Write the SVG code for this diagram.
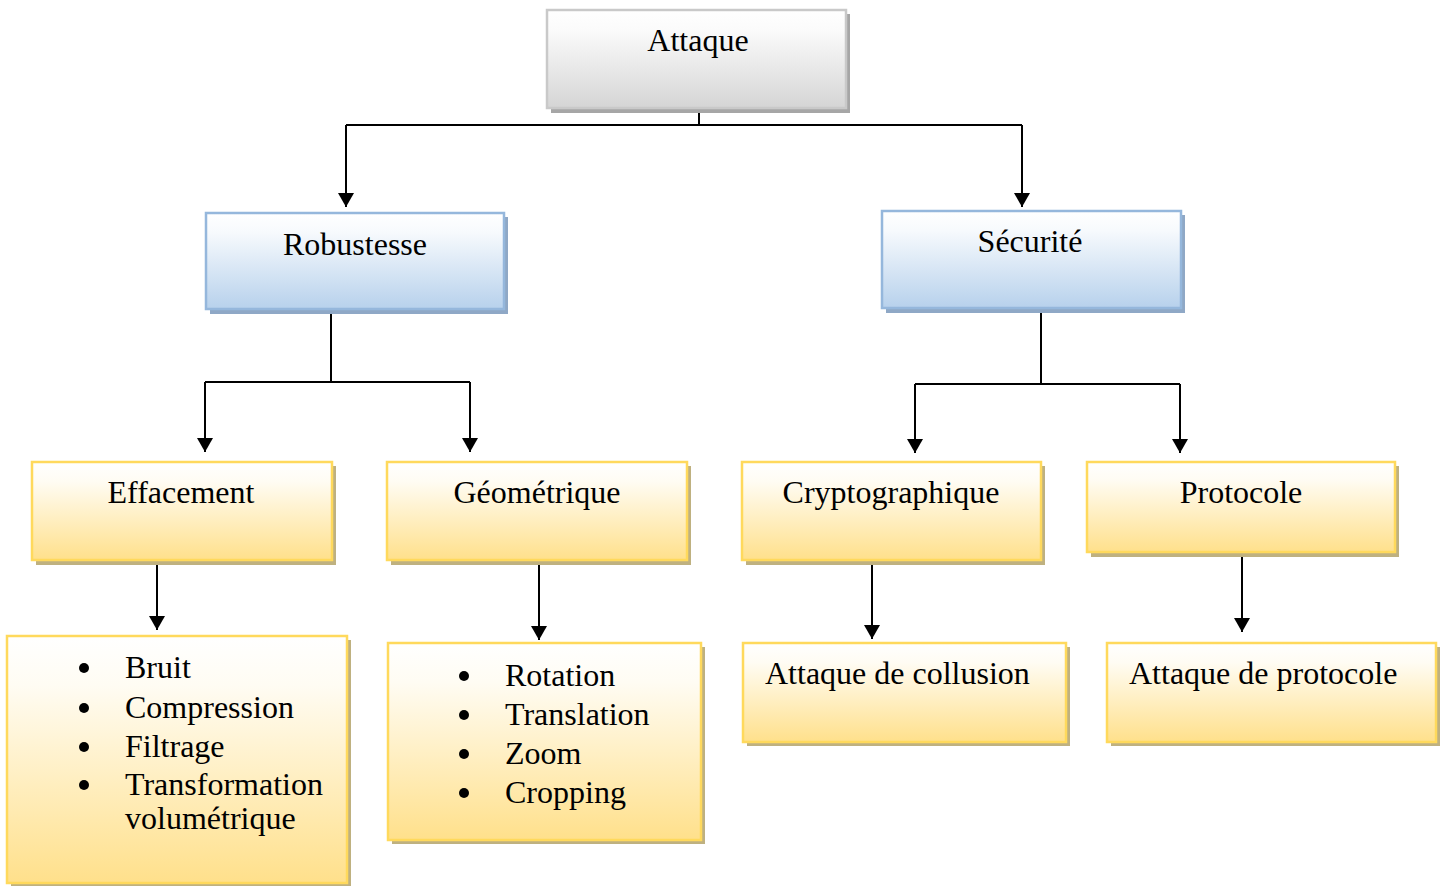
<svg xmlns="http://www.w3.org/2000/svg" width="1444" height="886" viewBox="0 0 1444 886">
<defs>
<linearGradient id="gGray" x1="0" y1="0" x2="0" y2="1"><stop offset="0" stop-color="#ffffff"/><stop offset="0.2" stop-color="#fbfbfb"/><stop offset="1" stop-color="#d5d5d5"/></linearGradient>
<linearGradient id="gBlue" x1="0" y1="0" x2="0" y2="1"><stop offset="0" stop-color="#ffffff"/><stop offset="0.2" stop-color="#f7fafd"/><stop offset="1" stop-color="#b7d1ec"/></linearGradient>
<linearGradient id="gYel" x1="0" y1="0" x2="0" y2="1"><stop offset="0" stop-color="#ffffff"/><stop offset="0.2" stop-color="#fffcf3"/><stop offset="1" stop-color="#ffe08b"/></linearGradient>
<marker id="arrD" markerUnits="userSpaceOnUse" markerWidth="14" markerHeight="16" refX="14" refY="8" orient="auto" viewBox="0 0 14 16">
<path d="M0,0 L14,8 L0,16 Z" fill="#000"/>
</marker>
</defs>
<style>
.sg{fill:#a6a6a6}
.sb{fill:#8fa8c6}
.sy{fill:#bfb180}
.bg{fill:url(#gGray);stroke:#c9c9c9;stroke-width:2.5}
.bb{fill:url(#gBlue);stroke:#95b7dc;stroke-width:2.5}
.by{fill:url(#gYel);stroke:#ffd95c;stroke-width:2.5}
text{font-family:"Liberation Serif","Times New Roman",serif;font-size:32px;fill:#000}
.c{text-anchor:middle}
.con{fill:none;stroke:#000;stroke-width:2}
.blt{fill:#000}
</style>
<g id="connectors">
<path class="con" d="M699,110 V125 M346,125 H1022"/>
<path class="con" d="M346,125 V207" marker-end="url(#arrD)"/>
<path class="con" d="M1022,125 V207" marker-end="url(#arrD)"/>
<path class="con" d="M331,311 V382 M205,382 H470"/>
<path class="con" d="M205,382 V452" marker-end="url(#arrD)"/>
<path class="con" d="M470,382 V452" marker-end="url(#arrD)"/>
<path class="con" d="M1041,311 V384 M915,384 H1180"/>
<path class="con" d="M915,384 V453" marker-end="url(#arrD)"/>
<path class="con" d="M1180,384 V453" marker-end="url(#arrD)"/>
<path class="con" d="M157,565 V630" marker-end="url(#arrD)"/>
<path class="con" d="M539,565 V640" marker-end="url(#arrD)"/>
<path class="con" d="M872,564 V639" marker-end="url(#arrD)"/>
<path class="con" d="M1242,557 V632" marker-end="url(#arrD)"/>
</g>
<g id="n-attaque">
<rect class="sg" x="551" y="14" width="299" height="99"/>
<rect class="bg" x="547" y="10" width="299" height="98"/>
<text class="c" x="698" y="51">Attaque</text>
</g>
<g id="n-robustesse">
<rect class="sb" x="210" y="217" width="298" height="97"/>
<rect class="bb" x="206" y="213" width="298" height="96"/>
<text class="c" x="355" y="255">Robustesse</text>
</g>
<g id="n-securite">
<rect class="sb" x="886" y="215" width="299" height="98"/>
<rect class="bb" x="882" y="211" width="299" height="97"/>
<text class="c" x="1030" y="252">Sécurité</text>
</g>
<g id="n-effacement">
<rect class="sy" x="36" y="466" width="300" height="99"/>
<rect class="by" x="32" y="462" width="300" height="98"/>
<text class="c" x="181" y="503">Effacement</text>
</g>
<g id="n-geometrique">
<rect class="sy" x="391" y="466" width="300" height="99"/>
<rect class="by" x="387" y="462" width="300" height="98"/>
<text class="c" x="537" y="503">Géométrique</text>
</g>
<g id="n-crypto">
<rect class="sy" x="746" y="466" width="299" height="99"/>
<rect class="by" x="742" y="462" width="299" height="98"/>
<text class="c" x="891" y="503">Cryptographique</text>
</g>
<g id="n-protocole">
<rect class="sy" x="1091" y="466" width="308" height="91"/>
<rect class="by" x="1087" y="462" width="308" height="90"/>
<text class="c" x="1241" y="503">Protocole</text>
</g>
<g id="n-effacement-list">
<rect class="sy" x="11" y="640" width="340" height="247"/>
<rect class="by" x="7" y="636" width="340" height="247"/>
<circle class="blt" cx="84" cy="668" r="5"/>
<circle class="blt" cx="84" cy="708" r="5"/>
<circle class="blt" cx="84" cy="747" r="5"/>
<circle class="blt" cx="84" cy="785" r="5"/>
<text x="125" y="678">Bruit</text>
<text x="125" y="718">Compression</text>
<text x="125" y="757">Filtrage</text>
<text x="125" y="795">Transformation</text>
<text x="125" y="829">volumétrique</text>
</g>
<g id="n-geometrique-list">
<rect class="sy" x="392" y="647" width="313" height="197"/>
<rect class="by" x="388" y="643" width="313" height="197"/>
<circle class="blt" cx="464" cy="676" r="5"/>
<circle class="blt" cx="464" cy="715" r="5"/>
<circle class="blt" cx="464" cy="754" r="5"/>
<circle class="blt" cx="464" cy="793" r="5"/>
<text x="505" y="686">Rotation</text>
<text x="505" y="725">Translation</text>
<text x="505" y="764">Zoom</text>
<text x="505" y="803">Cropping</text>
</g>
<g id="n-collusion">
<rect class="sy" x="747" y="647" width="323" height="99"/>
<rect class="by" x="743" y="643" width="323" height="99"/>
<text x="765" y="684">Attaque de collusion</text>
</g>
<g id="n-attaque-protocole">
<rect class="sy" x="1111" y="647" width="329" height="99"/>
<rect class="by" x="1107" y="643" width="329" height="99"/>
<text x="1129" y="684">Attaque de protocole</text>
</g>
</svg>
